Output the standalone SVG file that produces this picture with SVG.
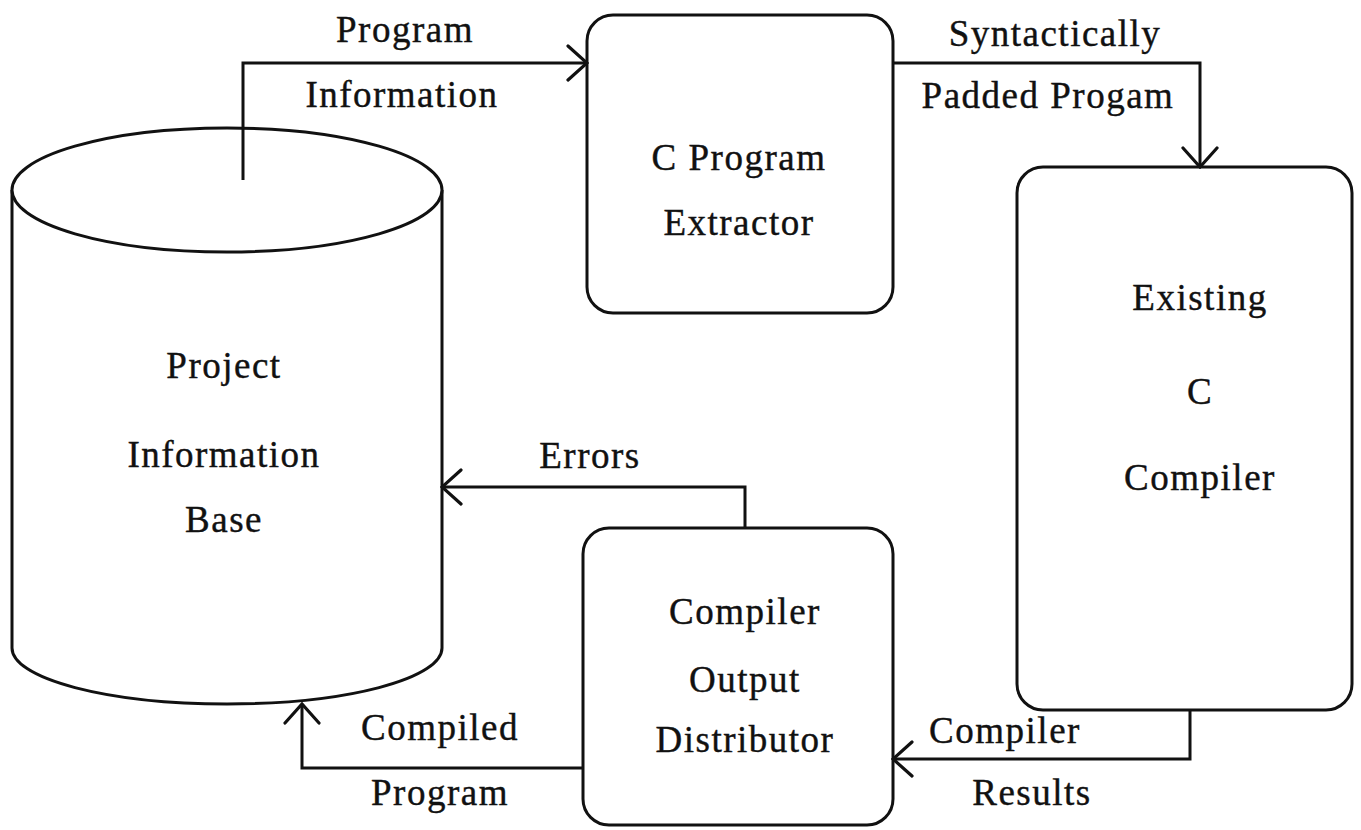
<svg xmlns="http://www.w3.org/2000/svg" width="1361" height="830" viewBox="0 0 1361 830">
  <style>
    .shape { fill: #fff; stroke: #111; stroke-width: 3; }
    .wire { fill: none; stroke: #111; stroke-width: 3; stroke-linejoin: miter; }
    .lbl { font-family: "Liberation Serif", "DejaVu Serif", serif; font-size: 37px; letter-spacing: 1.5px; fill: #111; stroke: #111; stroke-width: 0.4; text-anchor: middle; }
  </style>
  <defs>
    <marker id="open" viewBox="0 0 24 40" refX="22" refY="20" markerWidth="24" markerHeight="40" markerUnits="userSpaceOnUse" orient="auto">
      <path d="M3 3 L22 20 L3 37" fill="none" stroke="#111" stroke-width="3.2" stroke-linecap="round"/>
    </marker>
  </defs>
  <rect width="1361" height="830" fill="#fff"/>

  <!-- Project Information Base (database cylinder) -->
  <g id="project-info-base">
    <path class="shape" d="M12 190 L12 648 A215 56 0 0 0 442 648 L442 190"/>
    <ellipse class="shape" cx="227" cy="190" rx="215" ry="62"/>
    <text class="lbl" x="224" y="378">Project</text>
    <text class="lbl" x="224" y="467">Information</text>
    <text class="lbl" x="224" y="532">Base</text>
  </g>

  <!-- C Program Extractor -->
  <g id="c-program-extractor">
    <rect class="shape" x="587" y="15" width="306" height="298" rx="26"/>
    <text class="lbl" x="739" y="170">C Program</text>
    <text class="lbl" x="739" y="235">Extractor</text>
  </g>

  <!-- Existing C Compiler -->
  <g id="existing-c-compiler">
    <rect class="shape" x="1017" y="167" width="335" height="543" rx="26"/>
    <text class="lbl" x="1200" y="310">Existing</text>
    <text class="lbl" x="1200" y="404">C</text>
    <text class="lbl" x="1200" y="490">Compiler</text>
  </g>

  <!-- Compiler Output Distributor -->
  <g id="compiler-output-distributor">
    <rect class="shape" x="583" y="528" width="310" height="297" rx="26"/>
    <text class="lbl" x="745" y="624">Compiler</text>
    <text class="lbl" x="745" y="692">Output</text>
    <text class="lbl" x="745" y="752">Distributor</text>
  </g>

  <!-- Data flows between the components -->
  <g id="connectors">
    <path class="wire" d="M243 180 L243 63 L587 63" marker-end="url(#open)"/>
    <path class="wire" d="M893 63 L1200 63 L1200 167" marker-end="url(#open)"/>
    <path class="wire" d="M1190 710 L1190 759 L893 759" marker-end="url(#open)"/>
    <path class="wire" d="M745 528 L745 487 L442 487" marker-end="url(#open)"/>
    <path class="wire" d="M583 768 L302 768 L302 704" marker-end="url(#open)"/>
  </g>

  <!-- Flow labels -->
  <g id="flow-labels">
    <text class="lbl" x="405" y="42">Program</text>
    <text class="lbl" x="402" y="107">Information</text>
    <text class="lbl" x="1055" y="46">Syntactically</text>
    <text class="lbl" x="1048" y="108">Padded Progam</text>
    <text class="lbl" x="590" y="468">Errors</text>
    <text class="lbl" x="1005" y="743">Compiler</text>
    <text class="lbl" x="1032" y="805">Results</text>
    <text class="lbl" x="440" y="740">Compiled</text>
    <text class="lbl" x="440" y="805">Program</text>
  </g>
</svg>
